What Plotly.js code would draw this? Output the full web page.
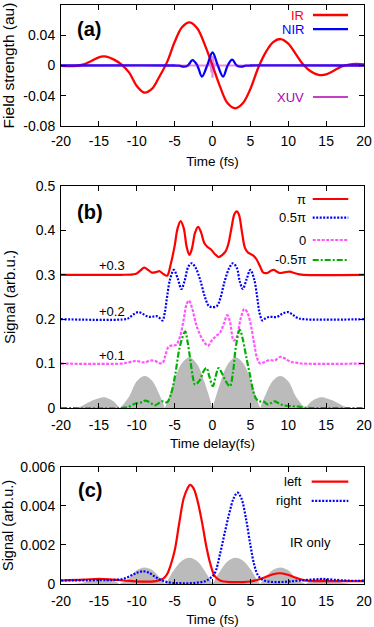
<!DOCTYPE html>
<html><head><meta charset="utf-8">
<script src="https://cdn.plot.ly/plotly-3.0.1.min.js"></script>
<style>html,body{margin:0;padding:0;background:#fff}#chart{width:374px;height:627px}</style>
</head><body><div id="chart"></div>
<script>
// ---------- Panel (a): field strengths ----------
const tIR = [-20,-19,-18,-17,-16,-15,-14.4,-14,-13,-12,-11,-10,-9,-8,-7,-6,-5,-4,-3,-2,-1,0,1,2,3,4,5,6,7,8,9,10,11,12,13,14,14.4,15,16,17,18,19,20];
const eIR = [-0.0005,-0.0008,-0.0005,0.0015,0.006,0.0108,0.012,0.0117,0.0078,0.0012,-0.0095,-0.027,-0.0359,-0.031,-0.0145,0.0045,0.031,0.051,0.0571,0.049,0.027,0,-0.028,-0.050,-0.0566,-0.050,-0.031,-0.004,0.017,0.031,0.035,0.029,0.015,0.001,-0.008,-0.0125,-0.0128,-0.0118,-0.007,-0.0015,0.0012,0.002,0.0015];
const tNIR = [-20,-5,-4.4,-3.8,-3.25,-2.65,-2.0,-1.4,-0.7,0,0.7,1.4,2.0,2.6,3.2,3.8,4.4,5,20];
const eNIR = [0,0,-0.0003,-0.0015,0,0.007,0,-0.0146,0,0.0173,0,-0.0146,0,0.0077,0,-0.0015,-0.0003,0,0];
const tXUV = [-20,-0.35,-0.25,-0.15,-0.08,0,0.08,0.15,0.25,0.35,20];
const eXUV = [0,0,0.004,-0.009,0.013,-0.016,0.012,-0.007,0.003,0,0];

// ---------- Panel (b): signals vs delay (with offsets) ----------
const tPi = [-20,-12,-10.5,-10,-9.5,-9,-8.5,-8,-7.5,-7,-6.5,-6,-5.5,-5,-4.6,-4.2,-3.8,-3.4,-3.05,-2.7,-2.3,-1.9,-1.5,-1.1,-0.7,-0.2,0.3,0.8,1.3,1.7,2.1,2.5,2.9,3.2,3.5,3.9,4.3,4.7,5.0,5.4,5.8,6.3,6.7,7.2,7.7,8.1,8.6,9.0,9.6,10.2,10.8,11.5,12,20];
const sPi = [0.300,0.300,0.301,0.303,0.31,0.316,0.311,0.305,0.306,0.308,0.302,0.298,0.325,0.365,0.405,0.421,0.405,0.362,0.345,0.36,0.395,0.408,0.395,0.372,0.363,0.357,0.347,0.340,0.345,0.352,0.37,0.405,0.437,0.443,0.435,0.395,0.36,0.35,0.347,0.343,0.335,0.318,0.305,0.304,0.309,0.311,0.306,0.304,0.306,0.307,0.304,0.301,0.300,0.300];
const tHalfPi = [-20,-11.5,-11,-10.5,-9.8,-9.2,-8.7,-8.2,-7.8,-7.4,-7.0,-6.6,-6.3,-6.0,-5.6,-5.1,-4.6,-4.1,-3.7,-3.2,-2.75,-2.2,-1.6,-1.0,-0.5,0.0,0.6,1.0,1.6,2.2,2.7,3.2,3.6,4.0,4.5,5.0,5.5,5.9,6.2,6.6,7.0,7.5,8.0,8.5,9.2,10.0,10.6,11.2,12.0,20];
const sHalfPi = [0.2,0.2,0.203,0.21,0.216,0.212,0.207,0.205,0.206,0.207,0.203,0.197,0.215,0.25,0.29,0.311,0.292,0.268,0.285,0.318,0.326,0.315,0.287,0.25,0.23,0.227,0.23,0.245,0.285,0.315,0.326,0.316,0.285,0.268,0.29,0.311,0.29,0.25,0.215,0.197,0.202,0.205,0.205,0.205,0.212,0.216,0.21,0.203,0.2,0.2];
const tZero = [-20,-12,-11.3,-10.5,-10,-9.3,-8.9,-8.2,-7.6,-7.0,-6.6,-6.2,-5.8,-5.3,-4.8,-4.3,-3.8,-3.4,-3.1,-2.7,-2.1,-1.5,-1.0,-0.6,-0.1,0.4,1.0,1.5,1.95,2.3,2.8,3.2,3.7,4.2,4.6,5.0,5.5,5.9,6.3,6.8,7.5,8.2,9.0,9.6,10.3,11.0,12,20];
const sZero = [0.1,0.1,0.102,0.105,0.106,0.103,0.103,0.107,0.106,0.101,0.101,0.12,0.138,0.141,0.142,0.16,0.2,0.235,0.242,0.225,0.185,0.16,0.146,0.140,0.152,0.161,0.17,0.19,0.209,0.195,0.152,0.16,0.2,0.223,0.215,0.192,0.145,0.112,0.1,0.103,0.108,0.107,0.115,0.111,0.104,0.102,0.1,0.1];
const tMHalfPi = [-20,-12,-11,-10.2,-9.5,-8.9,-8.3,-7.6,-7.0,-6.6,-6.0,-5.5,-4.95,-4.3,-3.6,-3.3,-2.9,-2.6,-2.3,-1.7,-1.2,-0.8,-0.4,0.05,0.4,0.8,1.2,1.7,2.3,2.7,3.1,3.6,4.0,4.4,4.97,5.6,6.1,6.7,7.3,8.2,8.8,9.4,10.5,11.4,12,13,20];
const sMHalfPi = [0,0,0.003,0.010,0.012,0.0165,0.013,0.006,0.012,0.015,0.013,0.03,0.072,0.139,0.1726,0.15,0.105,0.07,0.053,0.062,0.082,0.09,0.07,0.049,0.07,0.09,0.08,0.062,0.049,0.08,0.14,0.176,0.155,0.12,0.072,0.026,0.015,0.015,0.008,0.015,0.01,0.006,0.004,0.003,0.001,0,0];
// |IR field| envelope reference (grey), humps separated by gaps
const tGrayB = [-18.2,-17.5,-17,-16,-15,-14.4,-14,-13,-12.3,null,-12.3,-12,-11,-10,-9,-8,-7,-6.3,null,-6.3,-6,-5,-4,-3,-2,-1,0,null,0,1,2,3,4,5,6,6.3,null,6.3,7,8,9,10,11,12,12.3,null,12.3,13,14,14.5,15,16,17,17.5,18.2];
const sGrayB = [0,0.003,0.007,0.016,0.022,0.024,0.023,0.014,0,null,0,0.004,0.026,0.06,0.072,0.062,0.03,0,null,0,0.012,0.065,0.102,0.114,0.098,0.055,0,null,0,0.055,0.098,0.114,0.102,0.065,0.012,0,null,0,0.03,0.062,0.072,0.06,0.026,0.004,0,null,0,0.014,0.023,0.024,0.022,0.016,0.007,0.003,0];

// ---------- Panel (c): left / right emission, IR only ----------
const tLeft = [-20,-17,-15,-13,-11,-9,-7.5,-6.5,-6,-5.5,-5,-4.4,-3.8,-3.3,-2.95,-2.5,-2,-1.4,-0.8,-0.3,0.3,1,2,3,4,5,6,7,8,8.9,9.8,10.8,12,13,20];
const sLeft = [0.00018,0.00022,0.00027,0.00022,0.00016,0.00012,0.00015,0.00028,0.0005,0.001,0.0017,0.0031,0.0044,0.0049,0.00508,0.0049,0.0043,0.0032,0.0019,0.00105,0.0004,0.00018,0.00011,0.0001,0.0001,0.00013,0.00022,0.00036,0.0005,0.00055,0.00049,0.00035,0.0002,0.00016,0.00015];
const tRight = [-20,-14,-12.5,-11.5,-10.5,-9.8,-9.1,-8.4,-7.6,-6.8,-6,-5,-4,-3,-2,-1,-0.3,0.3,1.0,1.6,2.2,2.8,3.3,3.8,4.4,5.0,5.5,6.0,6.6,7.5,8.5,9.5,10.5,11.5,13,14.5,16,18,20];
const sRight = [0.00018,0.0002,0.00022,0.0003,0.00048,0.0006,0.00065,0.00058,0.00038,0.0002,0.0001,0.00005,0.00004,0.00004,0.00007,0.00014,0.0003,0.00055,0.00155,0.0026,0.0036,0.0044,0.00468,0.0044,0.0034,0.002,0.001,0.00045,0.00022,0.00012,0.0001,0.00011,0.00014,0.00018,0.00022,0.00026,0.00022,0.00017,0.00017];
const tGrayC = [-18.2,-17.5,-17,-16,-15,-14.4,-14,-13,-12.3,null,-12.3,-12,-11,-10,-9,-8,-7,-6.3,null,-6.3,-6,-5,-4,-3,-2,-1,0,null,0,1,2,3,4,5,6,6.3,null,6.3,7,8,9,10,11,12,12.3,null,12.3,13,14,14.5,15,16,17,17.5,18.2];
const sGrayC = [0,0.00004,0.00008,0.00019,0.00026,0.00028,0.00027,0.00017,0,null,0,0.00005,0.0003,0.0007,0.00085,0.00073,0.00035,0,null,0,0.00014,0.00077,0.00121,0.00135,0.00116,0.00065,0,null,0,0.00065,0.00116,0.00135,0.00121,0.00077,0.00014,0,null,0,0.00035,0.00073,0.00085,0.0007,0.0003,0.00005,0,null,0,0.00017,0.00027,0.00028,0.00026,0.00019,0.00008,0.00004,0];

// ---------- tick labels ----------
const xTickVals = [-20,-15,-10,-5,0,5,10,15,20];
const xTickText = ['-20','-15','-10','-5','0','5','10','15','20'];
const yTickValsA = [-0.08,-0.04,0,0.04,0.08];
const yTickTextA = ['-0.08','-0.04','0','0.04','0.08'];
const yTickValsB = [0,0.1,0.2,0.3,0.4,0.5];
const yTickTextB = ['0','0.1','0.2','0.3','0.4','0.5'];
const yTickValsC = [0,0.002,0.004,0.006];
const yTickTextC = ['0','0.002','0.004','0.006'];

const FONT = 'Liberation Sans, Arial, sans-serif';
const RED = '#ff0000', BLUE = '#0000ff', PINK = '#ff55ff', GREEN = '#00b000', PURPLE = '#b000b0', GRAY = '#bbbbbb';

const traces = [
  {x:tIR, y:eIR, xaxis:'x', yaxis:'y', mode:'lines', line:{color:RED, width:2.3, shape:'spline'}},
  {x:tNIR, y:eNIR, xaxis:'x', yaxis:'y', mode:'lines', line:{color:BLUE, width:2.3, shape:'spline'}},
  {x:tXUV, y:eXUV, xaxis:'x', yaxis:'y', mode:'lines', line:{color:'rgba(190,0,190,0.45)', width:2}},

  {x:tGrayB, y:sGrayB, xaxis:'x2', yaxis:'y2', mode:'lines', fill:'tozeroy', fillcolor:GRAY, line:{width:0, color:GRAY, shape:'spline'}, connectgaps:false},
  {x:tPi, y:sPi, xaxis:'x2', yaxis:'y2', mode:'lines', line:{color:RED, width:2.2, shape:'spline'}},
  {x:tHalfPi, y:sHalfPi, xaxis:'x2', yaxis:'y2', mode:'lines', line:{color:BLUE, width:2.2, shape:'spline', dash:'2px,1.5px'}},
  {x:tZero, y:sZero, xaxis:'x2', yaxis:'y2', mode:'lines', line:{color:PINK, width:2.2, shape:'spline', dash:'3px,1.5px'}},
  {x:tMHalfPi, y:sMHalfPi, xaxis:'x2', yaxis:'y2', mode:'lines', line:{color:GREEN, width:2.2, shape:'spline', dash:'6px,2px,2px,2px'}},

  {x:tGrayC, y:sGrayC, xaxis:'x3', yaxis:'y3', mode:'lines', fill:'tozeroy', fillcolor:GRAY, line:{width:0, color:GRAY, shape:'spline'}, connectgaps:false},
  {x:tLeft, y:sLeft, xaxis:'x3', yaxis:'y3', mode:'lines', line:{color:RED, width:2.2, shape:'spline'}},
  {x:tRight, y:sRight, xaxis:'x3', yaxis:'y3', mode:'lines', line:{color:BLUE, width:2.2, shape:'spline', dash:'2px,1.5px'}}
];

function xAxis(anchor, title, labelOff, standoff){
  return {anchor:anchor, domain:[0,1], range:[-20,20], tickvals:xTickVals, ticktext:xTickText,
    ticks:'inside', ticklen:5, tickcolor:'#000', showline:true, linecolor:'#000', linewidth:1, mirror:'ticks',
    showgrid:false, zeroline:false, automargin:false, tickfont:{size:14, color:'#000'}, ticklabelstandoff:labelOff,
    title:{text:title, standoff:standoff, font:{size:13.5, color:'#000'}}};
}
function yAxis(anchor, domain, range, tv, tt, title, tsize, standoff){
  return {anchor:anchor, domain:domain, range:range, tickvals:tv, ticktext:tt,
    ticks:'inside', ticklen:5, tickcolor:'#000', showline:true, linecolor:'#000', linewidth:1, mirror:'ticks',
    showgrid:false, zeroline:false, automargin:false, tickfont:{size:14, color:'#000'}, ticklabelstandoff:2,
    title:{text:title, standoff:standoff, font:{size:tsize, color:'#000'}}};
}

function legendLine(x0,x1,y,color,width,dash){
  return {type:'line', xref:'paper', yref:'paper', x0:x0, x1:x1, y0:y, y1:y, line:{color:color, width:width, dash:dash||'solid'}};
}
function label(x,y,text,color,anchor,size){
  return {xref:'paper', yref:'paper', x:x, y:y, text:text, showarrow:false, xanchor:anchor||'right', yanchor:'middle',
    borderpad:0, font:{family:FONT, size:size||13, color:color||'#000'}};
}

const layout = {
  width:374, height:627, margin:{l:61, r:10, t:5, b:43},
  paper_bgcolor:'#fff', plot_bgcolor:'#fff', showlegend:false,
  font:{family:FONT, size:13.5, color:'#000'},
  xaxis: xAxis('y', 'Time (fs)', 2, 8),
  yaxis: yAxis('x', [0.791,1], [-0.08,0.08], yTickValsA, yTickTextA, 'Field strength (au)', 15.5, 5),
  xaxis2: xAxis('y2', 'Time delay(fs)', 4, 6),
  yaxis2: yAxis('x2', [0.304,0.6874], [0,0.5], yTickValsB, yTickTextB, 'Signal (arb.u.)', 15, 16),
  xaxis3: xAxis('y3', 'Time (fs)', 4, 7),
  yaxis3: yAxis('x3', [0,0.2021], [0,0.006], yTickValsC, yTickTextC, 'Signal (arb.u.)', 14.5, 3),
  shapes: [
    legendLine(0.8317,0.9472,0.9827,RED,2.3),
    legendLine(0.8317,0.9472,0.9585,BLUE,2.3),
    legendLine(0.8317,0.9472,0.8411,PURPLE,1.5),
    legendLine(0.8307,0.9482,0.6649,RED,2.2),
    legendLine(0.8307,0.9482,0.6326,BLUE,2.2,'2px,1.5px'),
    legendLine(0.8307,0.9482,0.5941,PINK,2.2,'3px,1.5px'),
    legendLine(0.8307,0.9482,0.5596,GREEN,2.2,'6px,2px,2px,2px'),
    legendLine(0.8274,0.9482,0.1767,RED,2.2),
    legendLine(0.8274,0.9482,0.1434,BLUE,2.2,'2px,1.5px')
  ],
  annotations: [
    label(0.8053,0.9827,'IR',RED),
    label(0.8053,0.9585,'NIR',BLUE),
    label(0.8053,0.8411,'XUV',PURPLE),
    label(0.8109,0.6649,'π'),
    label(0.8109,0.6326,'0.5π'),
    label(0.8109,0.5941,'0'),
    label(0.8109,0.5596,'-0.5π'),
    label(0.7977,0.1767,'left'),
    label(0.7977,0.1434,'right'),
    label(0.8218,0.0713,'IR only','#000','center'),
    label(0.167,0.5506,'+0.3','#000','center'),
    label(0.167,0.4715,'+0.2','#000','center'),
    label(0.167,0.3955,'+0.1','#000','center'),
    label(0.0914,0.9585,'<b>(a)</b>','#000','center',20),
    label(0.0957,0.6430,'<b>(b)</b>','#000','center',20),
    label(0.0957,0.1623,'<b>(c)</b>','#000','center',20)
  ]
};

Plotly.newPlot('chart', traces, layout, {staticPlot:true, displayModeBar:false});
</script></body></html>
